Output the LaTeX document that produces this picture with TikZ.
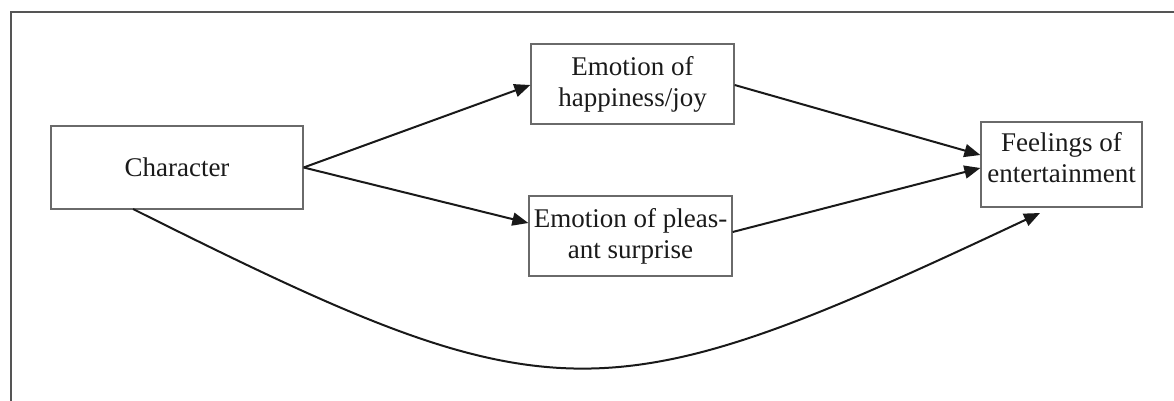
\documentclass[tikz,border=0pt]{standalone}
\usepackage{fontspec}
\setmainfont{Liberation Serif}
\usetikzlibrary{arrows.meta,calc}
\definecolor{framec}{HTML}{555555}
\definecolor{boxc}{HTML}{6A6A6A}
\definecolor{txtc}{HTML}{1A1A1A}
\tikzset{
  box/.style={draw=boxc, line width=1.3pt, inner sep=0pt, align=center, text=txtc,
    font=\fontsize{27}{31}\selectfont},
  txt/.style={inner sep=0pt, align=center, text=txtc, font=\fontsize{27}{31}\selectfont},
  arr/.style={draw=black!90, line width=2pt, -{Triangle[length=16pt,width=13pt]}},
  frame/.style={draw=framec, line width=1.4pt}
}
\begin{document}
\begin{tikzpicture}[x=1pt,y=-1pt]
\useasboundingbox (0,0) rectangle (1174,401);
% outer frame (top and left edges visible)
\coordinate (ftl) at (11,12);
\coordinate (ftr) at (1174,12);
\coordinate (fbl) at (11,401);
\draw[frame] (ftr) -- (ftl) -- (fbl);
% boxes
\node[box, minimum width=252pt, minimum height=83pt] (char) at (177,167.5) {Character};
\node[box, minimum width=203pt, minimum height=80pt] (hap) at (632.5,84) {Emotion of\\happiness/joy};
\node[box, minimum width=203pt, minimum height=80pt] (ple) at (630.5,236) {Emotion of pleas-\\ant surprise};
\node[box, minimum width=161pt, minimum height=85pt] (feel) at (1061.5,164.5) {};
\node[txt] (feeltxt) at (1061.5,158) {Feelings of\\entertainment};
% connectors
\draw[arr] (char.east) -- ([yshift=-1pt]hap.west);
\draw[arr] (char.east) -- ([yshift=13pt]ple.west);
\draw[arr] ([yshift=-1pt]hap.east) -- ([yshift=9.5pt]feel.west);
\draw[arr] ([yshift=4pt]ple.east) -- ([yshift=-3.5pt]feel.west);
\coordinate (cstart) at (133,209);
\coordinate (cend) at (1040,213);
\draw[arr] (cstart) .. controls (555,420) and (600,420) .. (cend);
\end{tikzpicture}
\end{document}
